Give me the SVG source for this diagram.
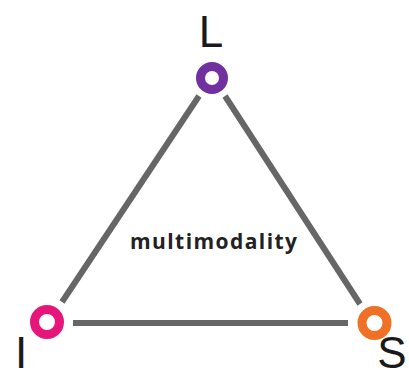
<svg xmlns="http://www.w3.org/2000/svg" width="409" height="378" viewBox="0 0 409 378">
<style>
.edge{stroke:#666;stroke-width:6;fill:none}
.ring{fill:#fff;stroke-width:9}
.lbl{font-family:"Liberation Sans","Noto Sans",sans-serif;font-size:44px;fill:#1a1a1a}
.mid{font-family:"Open Sans","Noto Sans",sans-serif;font-size:21px;font-weight:bold;fill:#222}
</style>
<rect width="409" height="378" fill="#fff"/>
<g id="connectors">
<line class="edge" x1="199" y1="96" x2="62" y2="302"/>
<line class="edge" x1="225" y1="96" x2="360" y2="304"/>
<line class="edge" x1="73" y1="323" x2="348" y2="323"/>
</g>
<g id="node-L">
<circle class="ring" cx="212" cy="78" r="11.5" stroke="#7030A0"/>
<text class="lbl" x="211" y="47" text-anchor="middle">L</text>
</g>
<g id="node-I">
<circle class="ring" cx="47" cy="322" r="12.5" stroke="#E6157A"/>
<text class="lbl" x="21" y="368" text-anchor="middle">I</text>
</g>
<g id="node-S">
<circle class="ring" cx="374.5" cy="323" r="12.5" stroke="#F07026"/>
<text class="lbl" x="392" y="368" text-anchor="middle">S</text>
</g>
<g id="label">
<text class="mid" x="130" y="249" textLength="167" lengthAdjust="spacing">multimodality</text>
</g>
</svg>
